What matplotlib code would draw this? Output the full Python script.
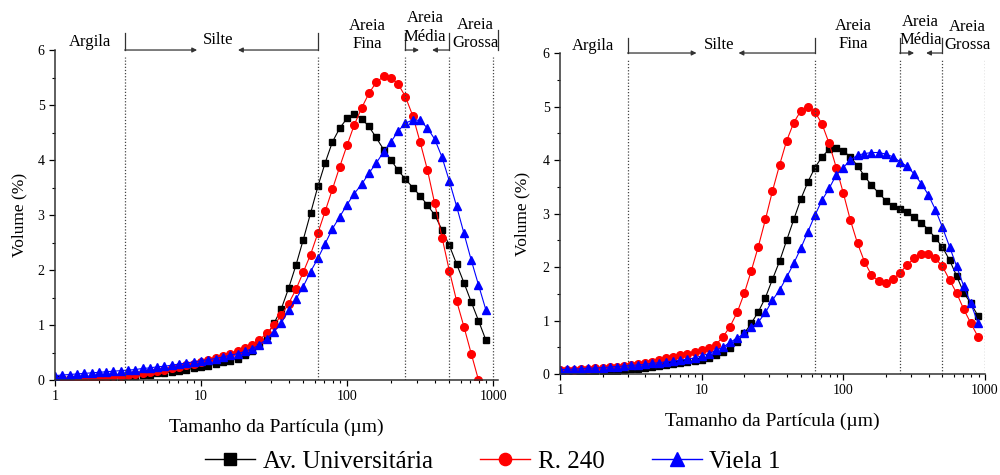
import matplotlib
matplotlib.use("Agg")
import matplotlib.pyplot as plt
from matplotlib.lines import Line2D

plt.rcParams['font.family'] = ['Liberation Serif', 'DejaVu Serif']

# particle size grid (um)
sizes = [1.00, 1.12, 1.26, 1.41, 1.58, 1.78, 2.00, 2.24, 2.51, 2.82,
         3.16, 3.55, 3.98, 4.47, 5.01, 5.62, 6.31, 7.08, 7.94, 8.91,
         10.0, 11.2, 12.6, 14.1, 15.8, 17.8, 20.0, 22.4, 25.1, 28.2,
         31.6, 35.5, 39.8, 44.7, 50.1, 56.2, 63.1, 70.8, 79.4, 89.1,
         100, 112, 126, 141, 158, 178, 200, 224, 251, 282,
         316, 355, 398, 447, 501, 562, 631, 708, 794, 891]

series_names = ['Av. Universitária', 'R. 240', 'Viela 1']

# left panel
left_av = [0.01, 0.01, 0.02, 0.02, 0.03, 0.03, 0.04, 0.04, 0.05, 0.06,
           0.07, 0.08, 0.09, 0.10, 0.12, 0.13, 0.15, 0.17, 0.19, 0.21,
           0.23, 0.26, 0.29, 0.32, 0.35, 0.39, 0.45, 0.53, 0.65, 0.80,
           1.03, 1.30, 1.67, 2.09, 2.55, 3.03, 3.52, 3.95, 4.33, 4.58,
           4.76, 4.83, 4.75, 4.61, 4.41, 4.19, 4.00, 3.81, 3.65, 3.50,
           3.35, 3.18, 3.00, 2.73, 2.45, 2.11, 1.77, 1.42, 1.08, 0.73]
left_r240 = [0.00, 0.01, 0.01, 0.02, 0.03, 0.04, 0.05, 0.06, 0.07, 0.08,
             0.09, 0.11, 0.13, 0.15, 0.17, 0.19, 0.21, 0.24, 0.27, 0.30,
             0.33, 0.36, 0.40, 0.44, 0.48, 0.53, 0.58, 0.64, 0.73, 0.85,
             1.00, 1.18, 1.39, 1.65, 1.96, 2.28, 2.67, 3.07, 3.47, 3.88,
             4.27, 4.64, 4.95, 5.21, 5.41, 5.52, 5.50, 5.38, 5.15, 4.80,
             4.33, 3.82, 3.21, 2.59, 1.99, 1.44, 0.97, 0.48, 0.00]
left_viela = [0.08, 0.09, 0.10, 0.11, 0.12, 0.13, 0.14, 0.15, 0.16, 0.17,
              0.18, 0.19, 0.21, 0.22, 0.24, 0.25, 0.27, 0.29, 0.31, 0.33,
              0.35, 0.37, 0.39, 0.42, 0.45, 0.48, 0.52, 0.57, 0.64, 0.75,
              0.88, 1.04, 1.27, 1.47, 1.70, 1.97, 2.21, 2.48, 2.75, 2.97,
              3.19, 3.39, 3.56, 3.76, 3.94, 4.15, 4.33, 4.53, 4.67, 4.73,
              4.72, 4.58, 4.38, 4.05, 3.62, 3.16, 2.67, 2.18, 1.73, 1.28]

# right panel
right_av = [0.02, 0.02, 0.03, 0.03, 0.04, 0.04, 0.05, 0.05, 0.06, 0.07,
            0.09, 0.10, 0.11, 0.13, 0.15, 0.17, 0.19, 0.21, 0.23, 0.25,
            0.27, 0.30, 0.35, 0.41, 0.49, 0.60, 0.76, 0.95, 1.16, 1.43,
            1.77, 2.11, 2.50, 2.89, 3.27, 3.59, 3.86, 4.06, 4.20, 4.22,
            4.17, 4.06, 3.89, 3.70, 3.53, 3.38, 3.24, 3.14, 3.08, 3.02,
            2.93, 2.83, 2.70, 2.54, 2.37, 2.13, 1.83, 1.52, 1.32, 1.09]
right_r240 = [0.07, 0.08, 0.08, 0.09, 0.10, 0.11, 0.12, 0.13, 0.14, 0.15,
              0.16, 0.18, 0.20, 0.23, 0.26, 0.29, 0.32, 0.35, 0.38, 0.41,
              0.44, 0.48, 0.55, 0.69, 0.88, 1.15, 1.51, 1.93, 2.38, 2.89,
              3.42, 3.91, 4.36, 4.70, 4.92, 5.00, 4.90, 4.67, 4.31, 3.86,
              3.38, 2.88, 2.44, 2.10, 1.85, 1.73, 1.70, 1.77, 1.89, 2.04,
              2.16, 2.24, 2.24, 2.16, 2.01, 1.76, 1.51, 1.21, 0.95, 0.70]
right_viela = [0.08, 0.09, 0.09, 0.10, 0.11, 0.11, 0.12, 0.13, 0.14, 0.15,
               0.16, 0.17, 0.18, 0.20, 0.21, 0.23, 0.24, 0.26, 0.28, 0.30,
               0.34, 0.38, 0.44, 0.50, 0.59, 0.67, 0.76, 0.87, 0.97, 1.15,
               1.38, 1.57, 1.81, 2.07, 2.35, 2.66, 2.97, 3.25, 3.47, 3.72,
               3.86, 4.00, 4.09, 4.12, 4.14, 4.14, 4.11, 4.06, 3.97, 3.88,
               3.74, 3.56, 3.35, 3.07, 2.74, 2.38, 2.01, 1.64, 1.32, 0.96]

class_limits = [3, 63, 250, 500, 1000]

styles = [dict(color='black', marker='s', markersize=5),
          dict(color='red', marker='o', markersize=5.5),
          dict(color='blue', marker='^', markersize=6)]

fig = plt.figure(figsize=(10, 4.75), dpi=100)
ax1 = fig.add_axes([0.055, 0.2, 0.443, 0.6947])
ax2 = fig.add_axes([0.56, 0.2126, 0.425, 0.6758])


def draw_panel(ax, data, xmax, lab, ypad):
    for vals, st in zip(data, styles):
        ax.plot(sizes[:len(vals)], vals, lw=0.8, **st)
    ax.set_xscale('log')
    ax.set_xlim(1, xmax)
    ax.set_ylim(0, 6)
    ax.set_xticks([1, 10, 100, 1000])
    ax.set_xticklabels(['1', '10', '100', '1000'])
    ax.set_yticks(range(7))
    ax.set_yticks([0.5, 1.5, 2.5, 3.5, 4.5, 5.5], minor=True)
    ax.tick_params(which='major', direction='out', length=4, width=0.9, labelsize=10)
    ax.tick_params(which='minor', direction='out', length=2.5, width=0.8)
    ax.spines['top'].set_visible(False)
    ax.spines['right'].set_visible(False)
    for s in ['left', 'bottom']:
        ax.spines[s].set_linewidth(1.1)
        ax.spines[s].set_color('#333333')
    ax.set_xlabel('Tamanho da Partícula (µm)', fontsize=14, labelpad=11)
    ax.set_ylabel('Volume (%)', fontsize=12.5, labelpad=ypad)

    for c in class_limits:
        ax.axvline(c, ymax=0.98, color='#444444', lw=0.9, ls=(0, (1, 1.5)))

    tr = ax.get_xaxis_transform()
    kw = dict(transform=tr, ha='center', va='center', fontsize=12, linespacing=1.2,
              clip_on=False)
    ax.text(lab['argila'][0], lab['argila'][1], 'Argila', **kw)
    ax.text(lab['silte'][0], lab['silte'][1], 'Silte', **kw)
    ax.text(lab['fina'][0], lab['fina'][1], 'Areia\nFina', **kw)
    ax.text(lab['media'][0], lab['media'][1], 'Areia\nMédia', **kw)
    ax.text(lab['grossa'][0], lab['grossa'][1], 'Areia\nGrossa', **kw)

    # brackets with arrows
    top = lab['bracket']
    for x0, x1, tip0, tip1 in [(3, 63, lab['silte_tips'][0], lab['silte_tips'][1]),
                               (250, 500, lab['media_tips'][0], lab['media_tips'][1])]:
        for xv in (x0, x1):
            ax.plot([xv, xv], [1.0, top], transform=tr, color='#333333', lw=0.9,
                    clip_on=False)
        for start, tip in ((x0, tip0), (x1, tip1)):
            ax.annotate('', xy=(tip, 1.0), xytext=(start, 1.0), xycoords=tr,
                        textcoords=tr, annotation_clip=False,
                        arrowprops=dict(arrowstyle='-|>', color='#333333', lw=0.9,
                                        mutation_scale=7, shrinkA=0, shrinkB=0))
    if lab.get('edge'):
        ax.plot([xmax, xmax], [1.0, top + 0.01], transform=tr, color='#333333',
                lw=0.9, clip_on=False)


draw_panel(ax1, [left_av, left_r240, left_viela], 1080,
           dict(argila=(1.74, 1.024), silte=(13.1, 1.03), fina=(137, 1.045),
                media=(342, 1.068), grossa=(753, 1.048), bracket=1.052,
                silte_tips=(9.4, 17.9), media_tips=(311, 382), edge=True), 7)
draw_panel(ax2, [right_av, right_r240, right_viela], 1000,
           dict(argila=(1.71, 1.022), silte=(13.2, 1.025), fina=(118, 1.056),
                media=(350, 1.068), grossa=(747, 1.053), bracket=1.047,
                silte_tips=(9.2, 18.2), media_tips=(316, 384)), 9)

handles = [Line2D([], [], lw=1.0, **st) for st in styles]
fig.legend(handles, series_names, loc='center', bbox_to_anchor=(0.493, 0.028),
           ncol=3, frameon=False, fontsize=18, handlelength=2.0,
           handletextpad=0.3, columnspacing=1.9, markerscale=1.6, borderpad=0)

fig.savefig('out.png', dpi=100)
